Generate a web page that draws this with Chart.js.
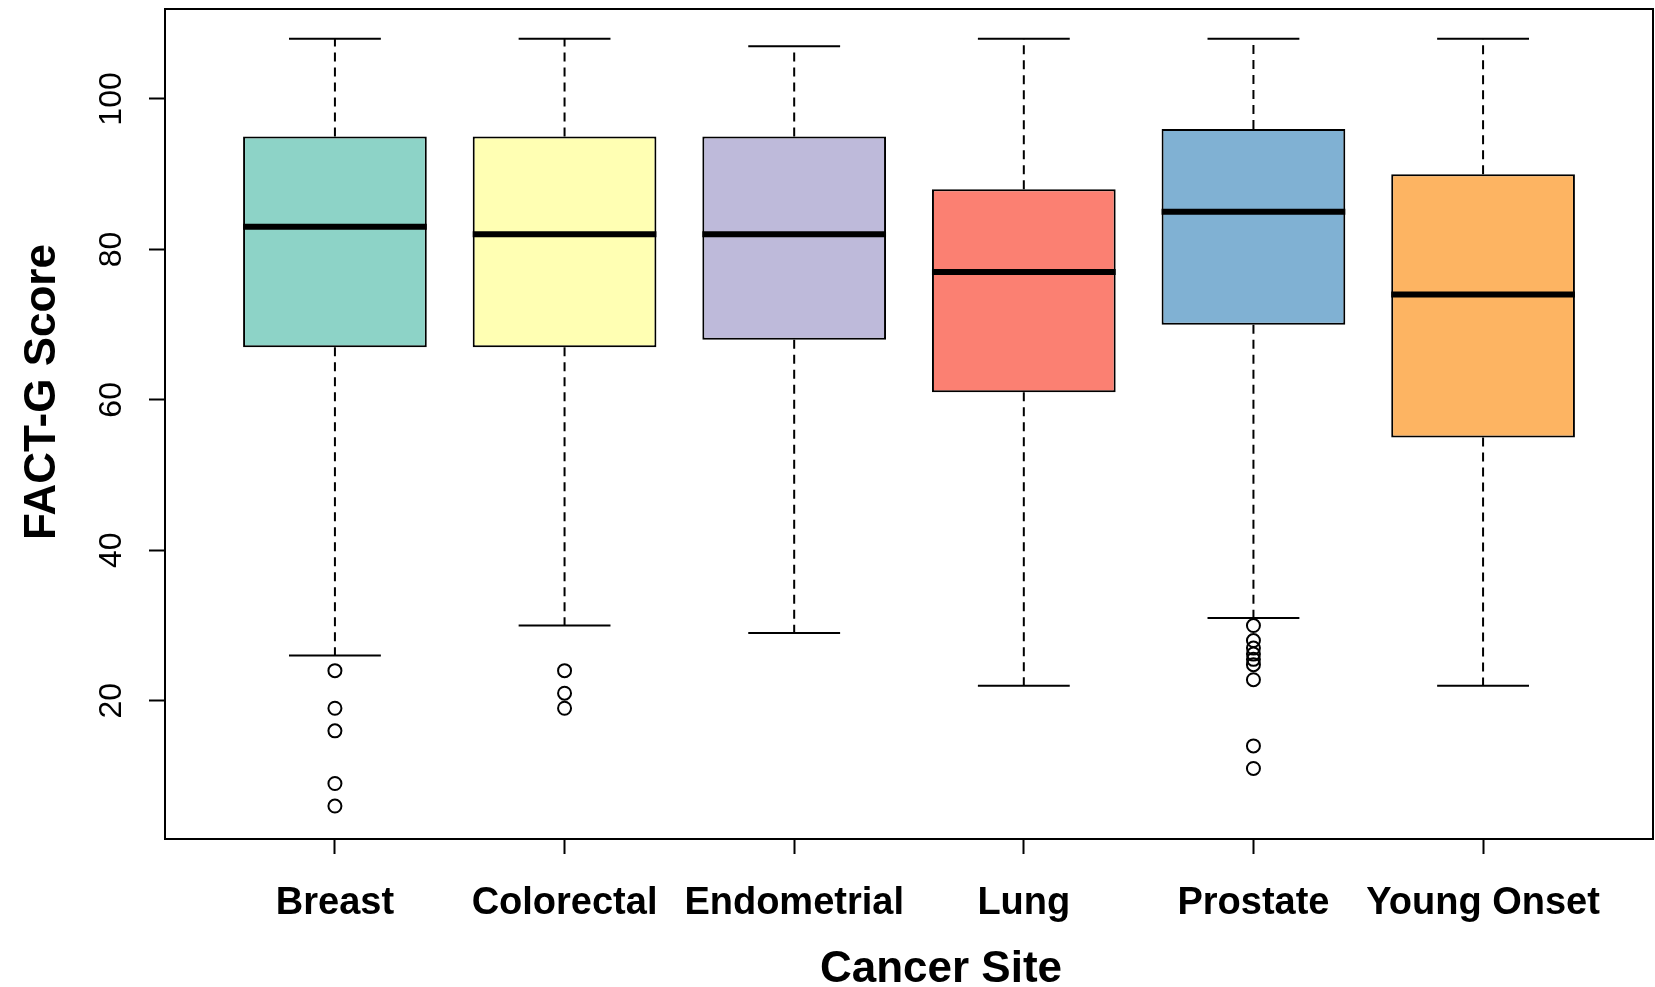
<!DOCTYPE html>
<html>
<head>
<meta charset="utf-8">
<script src="https://cdn.jsdelivr.net/npm/chart.js@4"></script>
<style>
  html, body { margin: 0; padding: 0; background: #fff; overflow: hidden; }
  canvas { display: block; }
</style>
</head>
<body>
<canvas id="boxChart" width="1655" height="987"></canvas>
<script>
// box plot values
var categories = ['Breast', 'Colorectal', 'Endometrial', 'Lung', 'Prostate', 'Young Onset'];
var lowerWhisker = [26, 30, 29, 22, 31, 22];
var q1 = [67, 67, 68, 61, 70, 55];
var median = [83, 82, 82, 77, 85, 74];
var q3 = [95, 95, 95, 88, 96, 90];
var upperWhisker = [108, 108, 107, 108, 108, 108];
var outliers = [
    [24, 19, 16, 9, 6],
    [24, 21, 19],
    [],
    [],
    [30, 28, 27, 26.2, 25.5, 24.8, 22.8, 14, 11],
    []
];
var yTicks = [20, 40, 60, 80, 100];
var boxColors = ['#8DD3C7', '#FFFFB3', '#BEBADA', '#FB8072', '#80B1D3', '#FDB462'];

var FONT = "'Liberation Sans', Arial, Helvetica, sans-serif";

var boxData = [];
var outlierData = [];
categories.forEach(function(c, i) {
    boxData.push({ x: i + 1, y: [q1[i], q3[i]] });
    outliers[i].forEach(function(v) {
        outlierData.push({ x: i + 1, y: v });
    });
});

// whiskers, staples, medians, frame and axis titles
var boxParts = {
    id: 'boxParts',
    beforeDatasetsDraw: function(chart) {
        var ctx = chart.ctx;
        var x = chart.scales.x, y = chart.scales.y;
        var half = x.getPixelForValue(1.2) - x.getPixelForValue(1);
        ctx.save();
        ctx.strokeStyle = '#000';
        ctx.lineWidth = 2;
        categories.forEach(function(c, i) {
            var px = x.getPixelForValue(i + 1);
            ctx.setLineDash([9, 6]);
            ctx.beginPath();
            ctx.moveTo(px, y.getPixelForValue(q3[i]));
            ctx.lineTo(px, y.getPixelForValue(upperWhisker[i]));
            ctx.moveTo(px, y.getPixelForValue(q1[i]));
            ctx.lineTo(px, y.getPixelForValue(lowerWhisker[i]));
            ctx.stroke();
            ctx.setLineDash([]);
            ctx.beginPath();
            ctx.moveTo(px - half, y.getPixelForValue(upperWhisker[i]));
            ctx.lineTo(px + half, y.getPixelForValue(upperWhisker[i]));
            ctx.moveTo(px - half, y.getPixelForValue(lowerWhisker[i]));
            ctx.lineTo(px + half, y.getPixelForValue(lowerWhisker[i]));
            ctx.stroke();
        });
        ctx.restore();
    },
    afterDatasetsDraw: function(chart) {
        var ctx = chart.ctx;
        var x = chart.scales.x, y = chart.scales.y;
        var half = x.getPixelForValue(1.4) - x.getPixelForValue(1);
        ctx.save();
        ctx.strokeStyle = '#000';
        ctx.lineWidth = 6;
        categories.forEach(function(c, i) {
            var px = x.getPixelForValue(i + 1);
            var py = y.getPixelForValue(median[i]);
            ctx.beginPath();
            ctx.moveTo(px - half, py);
            ctx.lineTo(px + half, py);
            ctx.stroke();
        });
        ctx.restore();
    },
    afterDraw: function(chart) {
        var ctx = chart.ctx;
        var a = chart.chartArea;
        ctx.save();
        ctx.strokeStyle = '#000';
        ctx.lineWidth = 2;
        ctx.strokeRect(a.left, a.top, a.right - a.left, a.bottom - a.top);

        ctx.fillStyle = '#000';
        ctx.font = 'bold 44px ' + FONT;
        ctx.textAlign = 'center';
        ctx.textBaseline = 'alphabetic';
        ctx.fillText('Cancer Site', 941, 982);

        ctx.translate(55, 392);
        ctx.rotate(-Math.PI / 2);
        ctx.fillText('FACT-G Score', 0, 0);
        ctx.restore();
    }
};

var ctx = document.getElementById('boxChart').getContext('2d');
var myChart = new Chart(ctx, {
    type: 'bar',
    data: {
        datasets: [{
            label: 'Box',
            data: boxData,
            backgroundColor: boxColors,
            borderColor: '#000',
            borderWidth: 2,
            borderSkipped: false,
            barPercentage: 0.8,
            categoryPercentage: 1.0
        }, {
            type: 'scatter',
            label: 'Outliers',
            data: outlierData,
            pointStyle: 'circle',
            pointRadius: 6.5,
            pointBorderWidth: 2,
            pointBorderColor: '#000',
            pointBackgroundColor: 'rgba(0,0,0,0)',
            showLine: false
        }]
    },
    options: {
        responsive: false,
        animation: false,
        devicePixelRatio: 1,
        layout: { autoPadding: false, padding: { top: 9, right: 2, left: 0, bottom: 0 } },
        plugins: {
            legend: { display: false },
            tooltip: { enabled: false }
        },
        scales: {
            x: {
                type: 'linear',
                min: 0.26,
                max: 6.74,
                offset: false,
                afterBuildTicks: function(s) {
                    s.ticks = categories.map(function(c, i) { return { value: i + 1 }; });
                },
                afterFit: function(s) {
                    s.height = 148;
                    s.paddingLeft = 0;
                    s.paddingRight = 0;
                },
                grid: {
                    display: true, drawOnChartArea: false, drawTicks: true, offset: false,
                    tickLength: 15, tickWidth: 2, tickColor: '#000'
                },
                border: { display: true, color: '#000', width: 2 },
                ticks: {
                    autoSkip: false,
                    maxRotation: 0,
                    minRotation: 0,
                    padding: 27,
                    color: '#000',
                    font: { family: FONT, size: 38, weight: 'bold' },
                    callback: function(v) { return categories[v - 1]; }
                }
            },
            y: {
                type: 'linear',
                min: 1.62,
                max: 111.96,
                afterBuildTicks: function(s) {
                    s.ticks = yTicks.map(function(v) { return { value: v }; });
                },
                afterFit: function(s) {
                    s.width = 165;
                    s.paddingTop = 0;
                    s.paddingBottom = 0;
                },
                grid: {
                    display: true, drawOnChartArea: false, drawTicks: true,
                    tickLength: 16, tickWidth: 2, tickColor: '#000'
                },
                border: { display: true, color: '#000', width: 2 },
                ticks: {
                    minRotation: 90,
                    maxRotation: 90,
                    crossAlign: 'center',
                    padding: 10,
                    color: '#000',
                    font: { family: FONT, size: 32 }
                }
            }
        }
    },
    plugins: [boxParts]
});
</script>
</body>
</html>
